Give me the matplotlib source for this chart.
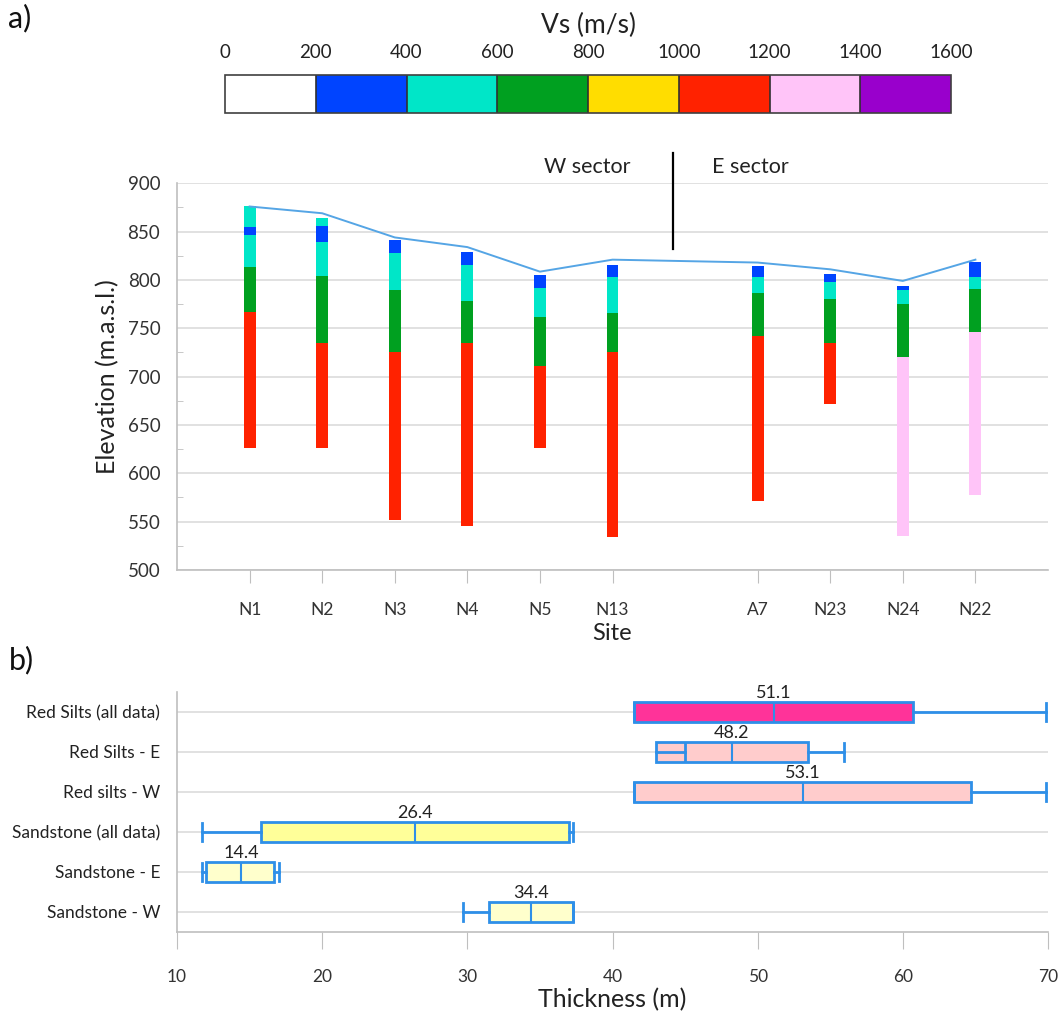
import matplotlib
matplotlib.use("Agg")
import matplotlib.pyplot as plt
from matplotlib.colors import ListedColormap, BoundaryNorm
import matplotlib.colorbar as mcolorbar
from matplotlib.ticker import MultipleLocator

plt.rcParams['font.family'] = ['Lato', 'DejaVu Sans']

# ---------------- data ----------------
vs_bounds = [0, 200, 400, 600, 800, 1000, 1200, 1400, 1600]
vs_colors = ['#ffffff', '#0044ff', '#00e6c8', '#00a020', '#ffdd00', '#ff2200', '#ffc4f8', '#9900cc']

sites = ['N1', 'N2', 'N3', 'N4', 'N5', 'N13', '', 'A7', 'N23', 'N24', 'N22']
surface = [876, 869, 844, 834, 808.6, 821, None, 818, 811, 799, 821]
# layer bottoms (elevation) and velocity class index, from top to bottom
layer_bottoms = [
    [855, 847, 813, 767, 626],
    [864, 856, 839, 804, 735, 626],
    [841, 828, 790, 725, 552],
    [829, 815.5, 778, 734.5, 545],
    [805, 792, 762, 711, 626],
    [815.5, 803, 766, 725, 534],
    [],
    [814, 803, 786, 742, 571],
    [806, 797.6, 780, 734.5, 672],
    [794, 790, 775, 720, 535],
    [819, 803, 791, 746.5, 578],
]
layer_classes = [
    [2, 1, 2, 3, 5],
    [0, 2, 1, 2, 3, 5],
    [0, 1, 2, 3, 5],
    [0, 1, 2, 3, 5],
    [0, 1, 2, 3, 5],
    [0, 1, 2, 3, 5],
    [],
    [0, 1, 2, 3, 5],
    [0, 1, 2, 3, 5],
    [0, 1, 2, 3, 6],
    [0, 1, 2, 3, 6],
]

box_labels = ['Sandstone - W', 'Sandstone - E', 'Sandstone (all data)',
              'Red silts - W', 'Red Silts - E', 'Red Silts (all data)']
box_whislo = [29.7, 11.7, 11.7, 41.45, 44.97, 41.5]
box_q1 = [31.5, 12.0, 15.76, 41.45, 42.97, 41.5]
box_med = [34.4, 14.4, 26.4, 53.1, 48.2, 51.1]
box_q3 = [37.3, 16.7, 36.97, 64.7, 53.47, 60.67]
box_whishi = [37.3, 17.0, 37.3, 69.86, 55.97, 69.86]
box_fill = ['#ffffcc', '#ffffcc', '#ffff99', '#ffcccc', '#ffcccc', '#ff3399']

# ---------------- figure ----------------
fig = plt.figure(figsize=(10.62, 10.16), dpi=100)
grid_c = '#d9d9d9'
spine_c = '#bfbfbf'
edge_blue = '#2e8fe8'

# colour bar
cax = fig.add_axes([0.2119, 0.8888, 0.6836, 0.0374])
cmap = ListedColormap(vs_colors)
norm = BoundaryNorm(vs_bounds, cmap.N)
cb = mcolorbar.ColorbarBase(cax, cmap=cmap, norm=norm, orientation='horizontal',
                            ticks=vs_bounds, drawedges=True)
cb.outline.set_edgecolor('#404040')
cb.outline.set_linewidth(1.2)
cb.dividers.set_color('#303030')
cb.dividers.set_linewidth(1.2)
cax.xaxis.set_ticks_position('top')
cax.tick_params(axis='x', length=0, pad=10, labelsize=13.5, colors='#222222')
cax.set_title('Vs (m/s)', fontsize=19, pad=30, color='#222222')

# top panel
ax = fig.add_axes([0.1667, 0.4390, 0.8201, 0.3806])
xpos = list(range(len(sites)))
bar_w = 0.165
for i, site in enumerate(sites):
    if not site:
        continue
    top = surface[i]
    for b, c in zip(layer_bottoms[i], layer_classes[i]):
        ax.bar(xpos[i], top - b, bottom=b, width=bar_w, color=vs_colors[c],
               edgecolor='none', zorder=3)
        top = b
line_x = [xpos[i] for i in range(len(sites)) if sites[i]]
line_y = [surface[i] for i in range(len(sites)) if sites[i]]
ax.plot(line_x, line_y, color='#55a5e5', lw=1.4, zorder=4)

ax.set_xlim(-1, 11)
ax.set_ylim(500, 900)
ax.yaxis.set_major_locator(MultipleLocator(50))
ax.yaxis.set_minor_locator(MultipleLocator(25))
ax.set_xticks(line_x)
ax.set_xticklabels([s for s in sites if s])
ax.grid(axis='y', color=grid_c, lw=1.1, zorder=0)
ax.set_axisbelow(True)
for s in ['top', 'right']:
    ax.spines[s].set_visible(False)
for s in ['left', 'bottom']:
    ax.spines[s].set_color(spine_c)
    ax.spines[s].set_linewidth(1.2)
ax.tick_params(axis='y', which='major', length=0, pad=12, labelsize=13.5, colors='#333333')
ax.tick_params(axis='y', which='minor', length=4, direction='in', color=spine_c)
ax.tick_params(axis='x', length=9, color=spine_c, pad=14, labelsize=12.5, colors='#333333')
ax.tick_params(axis='x', colors=spine_c, labelcolor='#333333')
ax.set_ylabel('Elevation (m.a.s.l.)', fontsize=18, labelpad=6, color='#222222')
ax.set_xlabel('Site', fontsize=17, labelpad=4, color='#222222')

# sector divider
ax.plot([5.83, 5.83], [832, 931], color='black', lw=1.6, clip_on=False, zorder=5)
ax.text(4.65, 917, 'W sector', ha='center', va='center', fontsize=15.5, color='#222222')
ax.text(6.9, 917, 'E sector', ha='center', va='center', fontsize=15.5, color='#222222')

# bottom panel
bx = fig.add_axes([0.1667, 0.0827, 0.8201, 0.2362])
stats = []
for i in range(len(box_labels)):
    stats.append(dict(label=box_labels[i], whislo=box_whislo[i], q1=box_q1[i],
                      med=box_med[i], q3=box_q3[i], whishi=box_whishi[i]))
rows = list(range(len(box_labels)))
art = bx.bxp(stats, positions=rows, orientation='horizontal', widths=0.5,
             capwidths=0.45, patch_artist=True, showfliers=False,
             boxprops=dict(edgecolor=edge_blue, linewidth=2),
             medianprops=dict(color=edge_blue, linewidth=1.5),
             whiskerprops=dict(color=edge_blue, linewidth=2),
             capprops=dict(color=edge_blue, linewidth=2),
             zorder=3)
for patch, fc in zip(art['boxes'], box_fill):
    patch.set_facecolor(fc)
for r, m in zip(rows, box_med):
    bx.text(m, r + 0.47, f'{m:.1f}', ha='center', va='center', fontsize=13,
            color='#222222', zorder=5)

bx.set_xlim(10, 70)
bx.set_ylim(-0.5, 5.5)
bx.set_xticks([10, 20, 30, 40, 50, 60, 70])
bx.set_yticks(rows)
bx.set_yticklabels(box_labels)
bx.grid(axis='y', color=grid_c, lw=1.1, zorder=0)
bx.set_axisbelow(True)
for s in ['top', 'right']:
    bx.spines[s].set_visible(False)
for s in ['left', 'bottom']:
    bx.spines[s].set_color(spine_c)
    bx.spines[s].set_linewidth(1.2)
bx.tick_params(axis='y', length=0, pad=12, labelsize=12.5, colors='#222222')
bx.tick_params(axis='x', length=12, color=spine_c, pad=15, labelsize=12.5,
               labelcolor='#333333')
bx.set_xlabel('Thickness (m)', fontsize=18, labelpad=2, color='#222222')

fig.text(0.008, 0.982, 'a)', fontsize=22, va='center', ha='left', color='#111111')
fig.text(0.008, 0.350, 'b)', fontsize=22, va='center', ha='left', color='#111111')

fig.savefig('out.png', dpi=100)
